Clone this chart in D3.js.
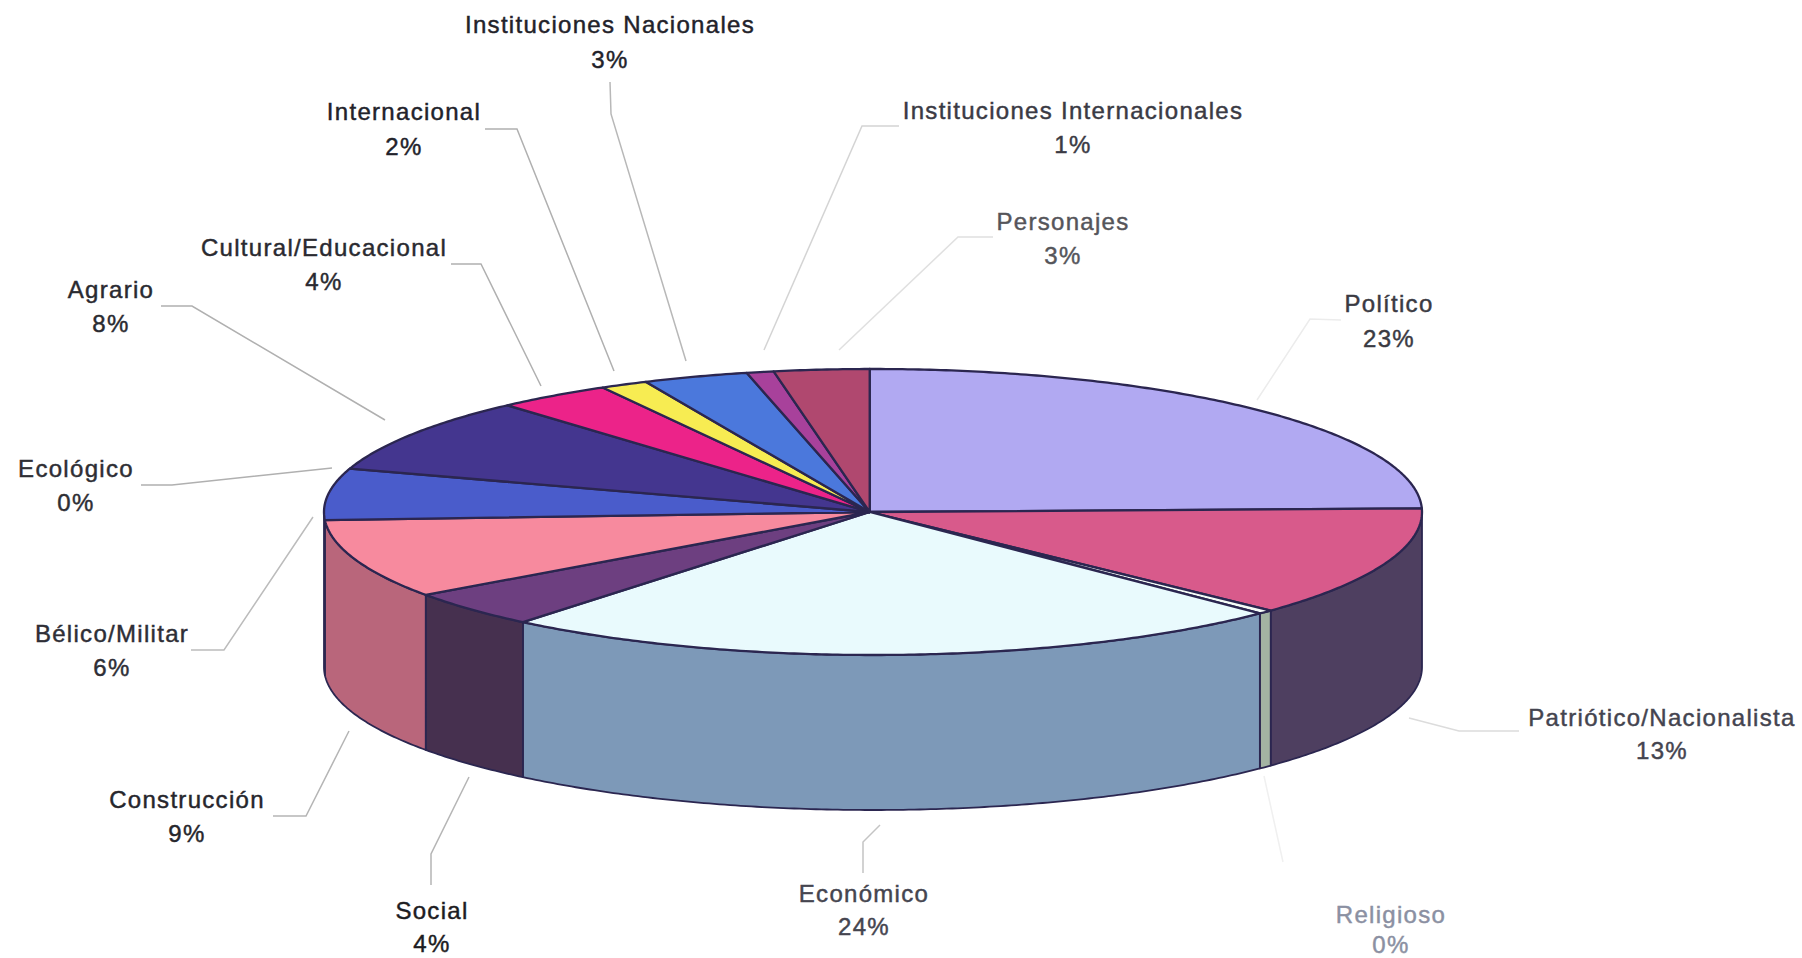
<!DOCTYPE html>
<html>
<head>
<meta charset="utf-8">
<script src="https://cdn.jsdelivr.net/npm/d3@7"></script>
<style>
  html, body { margin: 0; padding: 0; background: #fff; }
  svg { display: block; }
  text {
    font-family: "Liberation Sans", Arial, sans-serif;
    font-size: 24px;
    letter-spacing: 1.3px;
    text-anchor: middle;
    stroke-width: 0.45px;
  }
</style>
</head>
<body>
<svg id="chart" width="1802" height="958"></svg>
<script>
// clockwise from 12 o'clock
const categories = ["Político", "Patriótico/Nacionalista", "Religioso", "Económico", "Social", "Construcción",
  "Bélico/Militar", "Ecológico", "Agrario", "Cultural/Educacional", "Internacional",
  "Instituciones Nacionales", "Instituciones Internacionales", "Personajes"];
// printed labels
const percentLabels = [23, 13, 0, 24, 4, 9, 6, 0, 8, 4, 2, 3, 1, 3];
// slice sizes as measured on the rim of the pie
const sliceValues = [24.7, 12.5, 0.45, 23.45, 4.15, 8.95, 5.8, 0, 8.5, 3.4, 1.4, 3.1, 0.8, 2.8];

const topColors = ["#b1a9f2", "#d85a8b", "#f6fdf8", "#e9fafd", "#6d3f80", "#f78a9e",
  "#4a5ccb", "#3f8f6a", "#44368f", "#ec2389", "#f7ec52", "#4b78dc", "#a8419b", "#b0486f"];
const sideColors = ["#8a83c0", "#4e3f60", "#a3b3a2", "#7d99b8", "#46304f", "#b9667b",
  "#39479c", "#2f6d50", "#33296e", "#b51b69", "#bdb53f", "#3a5ca9", "#813277", "#873755"];

// label centre, name and percent baselines, leader line
const labelLayout = [
  { x: 1389, y1: 312, y2: 347, color: "#3a3a42", lead: "#ececec", line: [[1341, 320], [1310, 319], [1257, 400]] },
  { x: 1662, y1: 726, y2: 759, color: "#44444f", lead: "#dcdcdc", line: [[1519, 731], [1459, 731], [1409, 718]] },
  { x: 1391, y1: 923, y2: 953, color: "#8b90a2", lead: "#f0f0f0", line: [[1283, 862], [1264, 776]] },
  { x: 864, y1: 902, y2: 935, color: "#45454f", lead: "#c4c4c4", line: [[863, 873], [863, 842], [880, 825]] },
  { x: 432, y1: 919, y2: 952, color: "#1c1c22", lead: "#b5b5b5", line: [[431, 885], [431, 854], [469, 777]] },
  { x: 187, y1: 808, y2: 842, color: "#26262c", lead: "#b5b5b5", line: [[273, 816], [306, 816], [349, 731]] },
  { x: 112, y1: 642, y2: 676, color: "#2e2e36", lead: "#bcbcbc", line: [[191, 650], [224, 650], [313, 517]] },
  { x: 76, y1: 477, y2: 511, color: "#2e2e34", lead: "#b0b0b0", line: [[141, 485], [172, 485], [332, 468]] },
  { x: 111, y1: 298, y2: 332, color: "#2a2a30", lead: "#b0b0b0", line: [[161, 306], [192, 306], [385, 420]] },
  { x: 324, y1: 256, y2: 290, color: "#2a2a30", lead: "#b0b0b0", line: [[451, 264], [481, 264], [541, 386]] },
  { x: 404, y1: 120, y2: 155, color: "#22222a", lead: "#b0b0b0", line: [[485, 129], [517, 129], [614, 371]] },
  { x: 610, y1: 33, y2: 68, color: "#22222a", lead: "#b8b8b8", line: [[610, 82], [611, 114], [686, 361]] },
  { x: 1073, y1: 119, y2: 153, color: "#3a3a44", lead: "#d4d4d4", line: [[899, 126], [862, 126], [764, 350]] },
  { x: 1063, y1: 230, y2: 264, color: "#55555a", lead: "#e0e0e0", line: [[993, 237], [958, 237], [839, 350]] }
];

const svg = d3.select("#chart");

const x = d3.scaleLinear().domain([-1, 1]).range([324, 1422]);
const y = d3.scaleLinear().domain([-1, 1]).range([369, 655]);
const depth = 155;
const outline = "#2b2650";
const tilt = -0.006; // the pie's first edge sits a little left of the ellipse centre

const pie = d3.pie().sort(null).value(d => d).startAngle(tilt).endAngle(2 * Math.PI + tilt);
const slices = pie(sliceValues);

const line = d3.line();
const rim = (a, dy = 0) => [x(Math.sin(a)), y(-Math.cos(a)) + dy];

function arcPoints(a0, a1, dy = 0) {
  const n = Math.max(2, Math.ceil((a1 - a0) / 0.01));
  return d3.range(n + 1).map(i => rim(a0 + (a1 - a0) * i / n, dy));
}

// side wall, only the front half of the rim shows
const walls = svg.append("g");
slices.forEach((s, i) => {
  const a0 = Math.max(s.startAngle, Math.PI / 2);
  const a1 = Math.min(s.endAngle, Math.PI * 1.5);
  if (a1 <= a0 || s.value === 0) return;
  const pts = arcPoints(a0, a1).concat(arcPoints(a0, a1, depth).reverse());
  walls.append("path")
    .attr("d", line(pts) + "Z")
    .attr("fill", sideColors[i])
    .attr("stroke", outline)
    .attr("stroke-width", 1.8)
    .attr("stroke-linejoin", "round");
});

const tops = svg.append("g");
slices.forEach((s, i) => {
  if (s.value === 0) return;
  const pts = [[x(tilt), y(0)]].concat(arcPoints(s.startAngle, s.endAngle));
  tops.append("path")
    .attr("d", line(pts) + "Z")
    .attr("fill", topColors[i])
    .attr("stroke", outline)
    .attr("stroke-width", 2.3)
    .attr("stroke-linejoin", "round");
});

// leader lines and labels
const labels = svg.append("g");
categories.forEach((name, i) => {
  const l = labelLayout[i];
  labels.append("path")
    .attr("d", line(l.line))
    .attr("fill", "none")
    .attr("stroke", l.lead)
    .attr("stroke-width", 1.5);
  labels.append("text").attr("x", l.x).attr("y", l.y1).attr("fill", l.color).attr("stroke", l.color).text(name);
  labels.append("text").attr("x", l.x).attr("y", l.y2).attr("fill", l.color).attr("stroke", l.color).text(percentLabels[i] + "%");
});
</script>
</body>
</html>
